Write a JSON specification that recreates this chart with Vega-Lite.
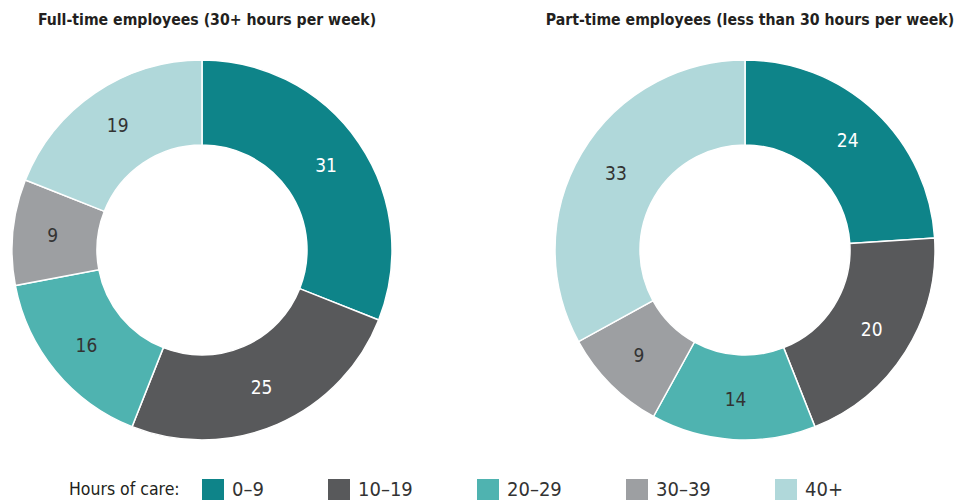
{
  "$schema": "https://vega.github.io/schema/vega-lite/v6.json",
  "padding": {"left": 2, "top": 12, "right": 0, "bottom": 0},
  "background": "white",
  "datasets": {
    "full": [
      {"hours": "0–9", "value": 31},
      {"hours": "10–19", "value": 25},
      {"hours": "20–29", "value": 16},
      {"hours": "30–39", "value": 9},
      {"hours": "40+", "value": 19}
    ],
    "part": [
      {"hours": "0–9", "value": 24},
      {"hours": "10–19", "value": 20},
      {"hours": "20–29", "value": 14},
      {"hours": "30–39", "value": 9},
      {"hours": "40+", "value": 33}
    ]
  },
  "config": {
    "font": "'DejaVu Sans Condensed', Roboto, sans-serif",
    "view": {"stroke": null},
    "title": {"fontSize": 15.7, "fontWeight": "bold", "color": "#231f20", "anchor": "middle", "offset": 26, "dx": 5, "font": "'DejaVu Sans Condensed', Roboto, sans-serif"},
    "concat": {"spacing": 123}
  },
  "hconcat": [
    {
      "title": "Full-time employees (30+ hours per week)",
      "width": 400,
      "height": 390,
      "data": {"name": "full"},
      "encoding": {
        "theta": {"field": "value", "type": "quantitative", "stack": true},
        "color": {
          "field": "hours", "type": "nominal",
          "sort": ["0–9", "10–19", "20–29", "30–39", "40+"],
          "scale": {"domain": ["0–9", "10–19", "20–29", "30–39", "40+"], "range": ["#0e8489", "#58595b", "#4fb3b0", "#9d9fa2", "#b0d8da"]},
          "legend": {
            "title": "Hours of care:", "orient": "none", "direction": "horizontal",
            "legendX": 67, "legendY": 424, "titleOrient": "left", "titleFontSize": 17.5, "titleFontWeight": "normal",
            "titleFont": "'DejaVu Sans Condensed', Roboto, sans-serif", "labelFont": "'DejaVu Sans Condensed', Roboto, sans-serif",
            "titleColor": "#231f20", "titlePadding": 22, "symbolType": "square", "symbolSize": 484,
            "symbolStrokeWidth": 0, "labelFontSize": 20, "labelColor": "#333", "labelOffset": 8,
            "columnPadding": 64, "titleBaseline": "middle", "symbolOpacity": 1
          }
        },
        "order": {"field": "hours", "sort": "ascending"}
      },
      "layer": [
        {"mark": {"type": "arc", "outerRadius": 190, "innerRadius": 105, "stroke": "white", "strokeWidth": 1.5}},
        {"mark": {"type": "text", "radius": 150, "fontSize": 19}, "encoding": {"text": {"field": "value", "type": "quantitative"}, "color": {"condition": {"test": "datum.hours === '0–9' || datum.hours === '10–19'", "value": "white"}, "value": "#333"}}}
      ]
    },
    {
      "title": "Part-time employees (less than 30 hours per week)",
      "width": 440,
      "height": 390,
      "data": {"name": "part"},
      "encoding": {
        "theta": {"field": "value", "type": "quantitative", "stack": true},
        "color": {
          "field": "hours", "type": "nominal",
          "sort": ["0–9", "10–19", "20–29", "30–39", "40+"],
          "scale": {"domain": ["0–9", "10–19", "20–29", "30–39", "40+"], "range": ["#0e8489", "#58595b", "#4fb3b0", "#9d9fa2", "#b0d8da"]},
          "legend": null
        },
        "order": {"field": "hours", "sort": "ascending"}
      },
      "layer": [
        {"mark": {"type": "arc", "outerRadius": 190, "innerRadius": 105, "stroke": "white", "strokeWidth": 1.5}},
        {"mark": {"type": "text", "radius": 150, "fontSize": 19}, "encoding": {"text": {"field": "value", "type": "quantitative"}, "color": {"condition": {"test": "datum.hours === '0–9' || datum.hours === '10–19'", "value": "white"}, "value": "#333"}}}
      ]
    }
  ],
  "resolve": {"scale": {"color": "shared"}}
}
